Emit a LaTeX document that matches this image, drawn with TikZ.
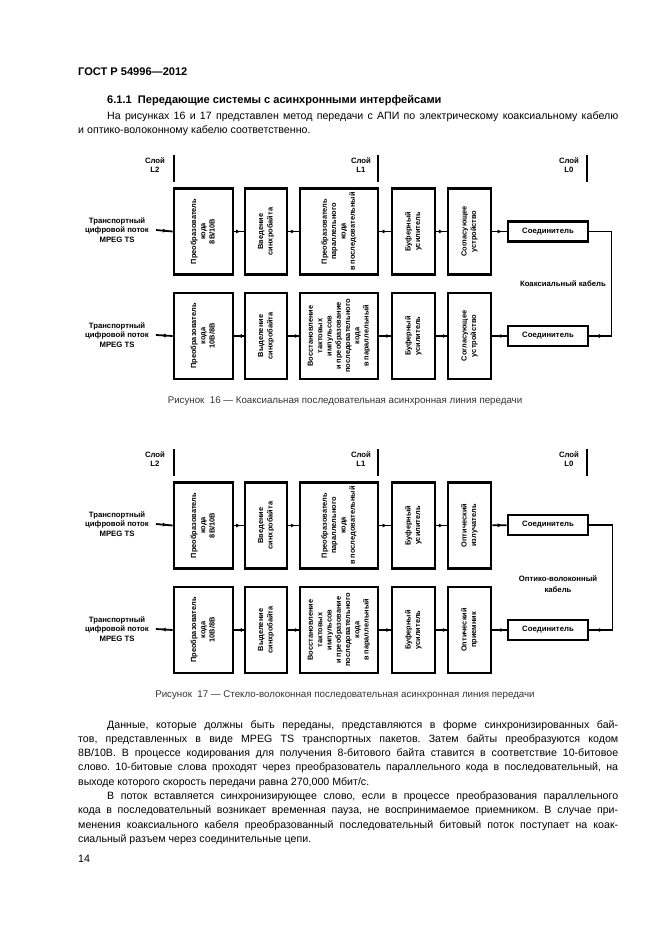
\documentclass[tikz,border=0pt]{standalone}
\usepackage{fontspec}
\setmainfont{Liberation Sans}
\usepackage{graphicx}
\usetikzlibrary{arrows.meta,decorations.markings}

\newlength\pxu
\setlength\pxu{0.3177mm}
\newcommand\vtext[1]{\rotatebox{90}{\begin{tabular}{@{}c@{}}#1\end{tabular}}}
\frenchspacing

\begin{document}
\begin{tikzpicture}[
    x=0.3177mm, y=-0.3177mm,
    block/.style={
        rectangle,
        draw,
        line width=2.5pt,
        inner sep=0pt,
        minimum height=86\pxu,
        font=\bfseries\fontsize{6.7}{8.4}\selectfont
      },
    plug/.style={
        rectangle,
        draw,
        line width=2.5pt,
        inner sep=0pt,
        minimum width=80\pxu,
        minimum height=20\pxu,
        font=\bfseries\fontsize{7}{8.5}\selectfont
      },
    lbl/.style={align=center, inner sep=0pt, font=\bfseries\fontsize{7}{8.5}\selectfont},
    flow/.style={line width=1.6pt, postaction={decorate},
        decoration={markings, mark=at position #1 with {\arrow{Latex[length=1.5mm,width=1.3mm]}}}},
    flow/.default=0.7,
    layer/.style={line width=1.2pt},
    para/.style={text width=540\pxu, align=justify, inner sep=0pt, font=\fontsize{9.6}{12.9}\selectfont},
    caption/.style={inner sep=0pt, text=black!80, font=\fontsize{8.8}{10}\selectfont}
    ]

    \fill[white] (0,0) rectangle (661,936);
    \useasboundingbox (0,0) rectangle (661,936);

    % page text
    \node[anchor=west, inner sep=0pt, font=\bfseries\fontsize{10}{12}\selectfont] (gost) at (78,72) {ГОСТ Р 54996—2012};
    \node[anchor=west, inner sep=0pt, font=\bfseries\fontsize{10}{12}\selectfont] (sec) at (107,101) {6.1.1~~Передающие системы с асинхронными интерфейсами};
    \node[para, anchor=north west] (intro) at (78,111) {\hspace*{29\pxu}На рисунках 16 и 17 представлен метод передачи с АПИ по электрическому коаксиальному кабелю\linebreak
      и оптико-волоконному кабелю соответственно.};

    % figure 16
    \node[lbl] (s2) at (155,165) {Слой\\L2};
    \node[lbl] (s1) at (361,165) {Слой\\L1};
    \node[lbl] (s0) at (569,165) {Слой\\L0};
    \draw[layer] (174,155) -- (174,182);
    \draw[layer] (378,155) -- (378,182);
    \draw[layer] (587,155) -- (587,182);

    \node[lbl, inner xsep=2.2mm] (src) at (117,230) {Транспортный\\цифровой поток\\MPEG TS};
    \node[block, minimum width=59\pxu] (a1) at (203.5,231.5) {\vtext{Преобразователь\\кода\\8B/10B}};
    \node[block, minimum width=42\pxu] (a2) at (266,231.5) {\vtext{Введение\\синхробайта}};
    \node[block, minimum width=78\pxu] (a3) at (339,231.5) {\vtext{Преобразователь\\параллельного\\кода\\в последовательный}};
    \node[block, minimum width=43\pxu] (a4) at (413.5,231.5) {\vtext{Буферный\\усилитель}};
    \node[block, minimum width=43\pxu] (a5) at (469.5,231.5) {\vtext{Согласующее\\устройство}};
    \node[plug] (a6) at (548,231.5) {Соединитель};

    \node[lbl, inner xsep=2.2mm] (dst) at (117,335) {Транспортный\\цифровой поток\\MPEG TS};
    \node[block, minimum width=59\pxu] (b1) at (203.5,336) {\vtext{Преобразователь\\кода\\10B/8B}};
    \node[block, minimum width=42\pxu] (b2) at (266,336) {\vtext{Выделение\\синхробайта}};
    \node[block, minimum width=78\pxu] (b3) at (339,336) {\vtext{Восстановление\\тактовых\\импульсов\\и преобразование\\последовательного\\кода\\в параллельный}};
    \node[block, minimum width=43\pxu] (b4) at (413.5,336) {\vtext{Буферный\\усилитель}};
    \node[block, minimum width=43\pxu] (b5) at (469.5,336) {\vtext{Согласующее\\устройство}};
    \node[plug] (b6) at (548,336) {Соединитель};

    \draw[flow] (src.east) -- (a1.west);
    \draw[flow] (a1) -- (a2);
    \draw[flow] (a2) -- (a3);
    \draw[flow] (a3) -- (a4);
    \draw[flow] (a4) -- (a5);
    \draw[flow] (a5) -- (a6);
    \draw[flow=0.96] (a6.east) -- ++(22,0) |- (b6.east);
    \draw[flow] (b6) -- (b5);
    \draw[flow] (b5) -- (b4);
    \draw[flow] (b4) -- (b3);
    \draw[flow] (b3) -- (b2);
    \draw[flow] (b2) -- (b1);
    \draw[flow] (b1.west) -- (dst.east);

    \node[lbl, anchor=east] (cab) at (606,284) {Коаксиальный кабель};
    \node[caption] (cap16) at (345,401) {Рисунок~~16 — Коаксиальная последовательная асинхронная линия передачи};

    % figure 17
    \begin{scope}[shift={(0,294)}]
      \node[lbl] (t2) at (155,165) {Слой\\L2};
      \node[lbl] (t1) at (361,165) {Слой\\L1};
      \node[lbl] (t0) at (569,165) {Слой\\L0};
      \draw[layer] (174,155) -- (174,182);
      \draw[layer] (378,155) -- (378,182);
      \draw[layer] (587,155) -- (587,182);

      \node[lbl, inner xsep=2.2mm] (osrc) at (117,230) {Транспортный\\цифровой поток\\MPEG TS};
      \node[block, minimum width=59\pxu] (c1) at (203.5,231.5) {\vtext{Преобразователь\\кода\\8B/10B}};
      \node[block, minimum width=42\pxu] (c2) at (266,231.5) {\vtext{Введение\\синхробайта}};
      \node[block, minimum width=78\pxu] (c3) at (339,231.5) {\vtext{Преобразователь\\параллельного\\кода\\в последовательный}};
      \node[block, minimum width=43\pxu] (c4) at (413.5,231.5) {\vtext{Буферный\\усилитель}};
      \node[block, minimum width=43\pxu] (c5) at (469.5,231.5) {\vtext{Оптический\\излучатель}};
      \node[plug] (c6) at (548,231) {Соединитель};

      \node[lbl, inner xsep=2.2mm] (odst) at (117,335) {Транспортный\\цифровой поток\\MPEG TS};
      \node[block, minimum width=59\pxu] (d1) at (203.5,336) {\vtext{Преобразователь\\кода\\10B/8B}};
      \node[block, minimum width=42\pxu] (d2) at (266,336) {\vtext{Выделение\\синхробайта}};
      \node[block, minimum width=78\pxu] (d3) at (339,336) {\vtext{Восстановление\\тактовых\\импульсов\\и преобразование\\последовательного\\кода\\в параллельный}};
      \node[block, minimum width=43\pxu] (d4) at (413.5,336) {\vtext{Буферный\\усилитель}};
      \node[block, minimum width=43\pxu] (d5) at (469.5,336) {\vtext{Оптический\\приемник}};
      \node[plug] (d6) at (548,336) {Соединитель};

      \draw[flow] (osrc.east) -- (c1.west);
      \draw[flow] (c1) -- (c2);
      \draw[flow] (c2) -- (c3);
      \draw[flow] (c3) -- (c4);
      \draw[flow] (c4) -- (c5);
      \draw[flow] (c5) -- (c6);
      \draw[flow=0.96] (c6.east) -- ++(23,0) |- (d6.east);
      \draw[flow] (d6) -- (d5);
      \draw[flow] (d5) -- (d4);
      \draw[flow] (d4) -- (d3);
      \draw[flow] (d3) -- (d2);
      \draw[flow] (d2) -- (d1);
      \draw[flow] (d1.west) -- (odst.east);

      \node[lbl] (fib) at (558,290) {Оптико-волоконный\\[2pt]кабель};
      \node[caption] (cap17) at (345,401) {Рисунок~~17 — Стекло-волоконная последовательная асинхронная линия передачи};
    \end{scope}

    % body text
    \node[para, anchor=north west] (body) at (78,720) {\hspace*{29\pxu}Данные, которые должны быть переданы, представляются в форме синхронизированных бай-\linebreak
      тов, представленных в виде MPEG TS транспортных пакетов. Затем байты преобразуются кодом\linebreak
      8B/10B. В процессе кодирования для получения 8-битового байта ставится в соответствие 10-битовое\linebreak
      слово. 10-битовые слова проходят через преобразователь параллельного кода в последовательный, на\linebreak
      выходе которого скорость передачи равна 270,000 Мбит/с.\par
      \hspace*{29\pxu}В поток вставляется синхронизирующее слово, если в процессе преобразования параллельного\linebreak
      кода в последовательный возникает временная пауза, не воспринимаемое приемником. В случае при-\linebreak
      менения коаксиального кабеля преобразованный последовательный битовый поток поступает на коак-\linebreak
      сиальный разъем через соединительные цепи.};
    \node[anchor=west, inner sep=0pt, font=\fontsize{9.6}{12}\selectfont] (pg) at (78,859) {14};

  \end{tikzpicture}
\end{document}
